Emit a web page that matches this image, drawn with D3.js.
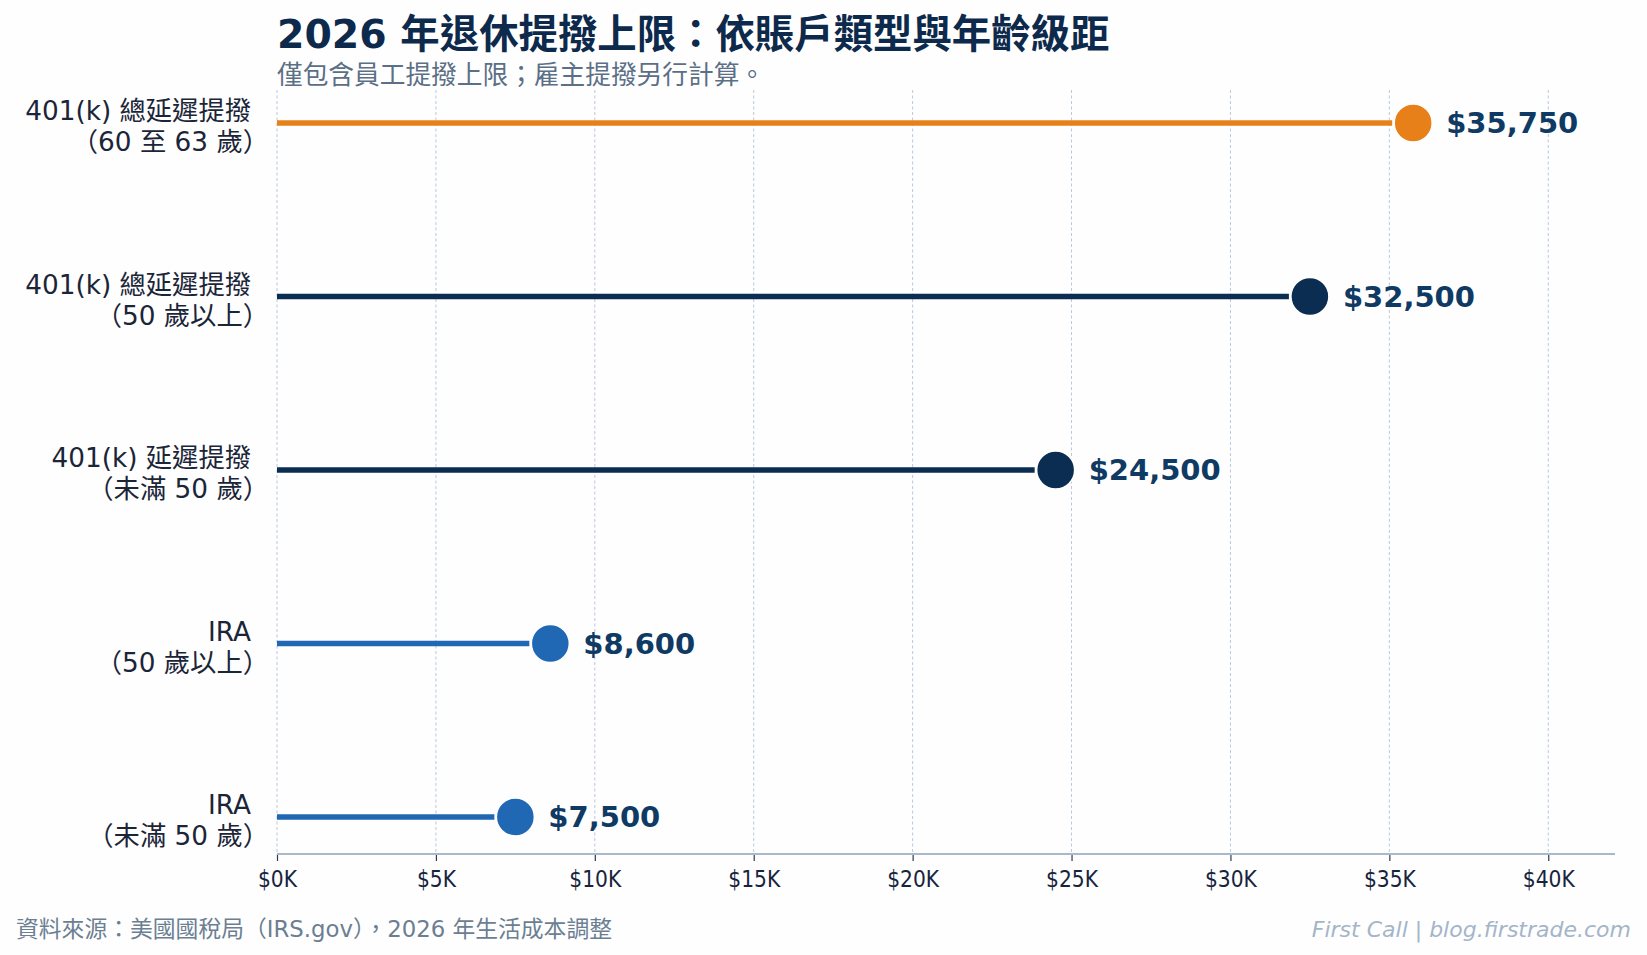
<!DOCTYPE html>
<html><head><meta charset="utf-8">
<script src="https://cdn.jsdelivr.net/npm/d3@7"></script>
<style>
html,body{margin:0;padding:0;background:#fefefe;}
svg{display:block;font-family:"DejaVu Sans","Noto Sans CJK TC",sans-serif;}
</style></head>
<body>
<svg id="c" width="1647" height="955"></svg>
<script>
const categoriesLine1 = ["401(k) 總延遲提撥","401(k) 總延遲提撥","401(k) 延遲提撥","IRA","IRA"];
const categoriesLine2 = ["（60 至 63 歲）","（50 歲以上）","（未滿 50 歲）","（50 歲以上）","（未滿 50 歲）"];
const values = [35750, 32500, 24500, 8600, 7500];
const valueLabels = ["$35,750","$32,500","$24,500","$8,600","$7,500"];
const seriesColors = ["#e8801a","#0b2d52","#0b2d52","#2068b4","#2068b4"];
const tickValues = [0,5000,10000,15000,20000,25000,30000,35000,40000];
const tickLabels = ["$0K","$5K","$10K","$15K","$20K","$25K","$30K","$35K","$40K"];

const svg = d3.select("#c");
const cjk = "\"DejaVu Sans\",\"Noto Sans CJK TC\",sans-serif";
const cond = "\"DejaVu Sans Condensed\",\"DejaVu Sans\",sans-serif";
const ids = d3.range(values.length);

const x = d3.scaleLinear().domain([0, 42100]).range([277, 1615]);
const y = d3.scalePoint().domain(ids).range([123, 817]);
const plotTop = 90, axisY = 854;

// gridlines
svg.append("g").selectAll("line").data(tickValues).join("line")
  .attr("x1", d => x(d)).attr("x2", d => x(d))
  .attr("y1", plotTop).attr("y2", axisY)
  .attr("stroke", "#b9c8da").attr("stroke-width", 1)
  .attr("stroke-dasharray", "3,2.5");

// x axis
const xAxis = d3.axisBottom(x).tickValues(tickValues)
  .tickFormat((d, i) => tickLabels[i]).tickSize(7).tickPadding(10);
const gx = svg.append("g").attr("transform", `translate(0,${axisY})`).call(xAxis);
gx.select(".domain").remove();
gx.selectAll(".tick line").attr("stroke", "#2a3a55").attr("stroke-width", 1.2);
gx.selectAll(".tick text").attr("fill", "#17243d").attr("font-size", 22.5)
  .attr("font-family", cond).attr("font-stretch", "condensed");
svg.append("line").attr("x1", x(0)).attr("x2", x.range()[1])
  .attr("y1", axisY).attr("y2", axisY)
  .attr("stroke", "#a9b8ca").attr("stroke-width", 2);

// stems
svg.append("g").selectAll("line").data(ids).join("line")
  .attr("x1", x(0)).attr("x2", i => x(values[i]) - 21)
  .attr("y1", i => y(i)).attr("y2", i => y(i))
  .attr("stroke", i => seriesColors[i]).attr("stroke-width", 5.5);

// dots
svg.append("g").selectAll("circle").data(ids).join("circle")
  .attr("cx", i => x(values[i])).attr("cy", i => y(i)).attr("r", 19)
  .attr("fill", i => seriesColors[i]).attr("stroke", "#ffffff").attr("stroke-width", 1.5);

// value labels
svg.append("g").selectAll("text").data(ids).join("text")
  .attr("x", i => x(values[i]) + 33).attr("y", i => y(i))
  .attr("dy", "0.36em")
  .attr("font-size", 29).attr("font-weight", "bold").attr("fill", "#0f3a63")
  .attr("font-family", cjk)
  .text(i => valueLabels[i]);

// category labels
const cl = svg.append("g").selectAll("text").data(ids).join("text")
  .attr("text-anchor", "end").attr("font-size", 26.3).attr("fill", "#1b2538")
  .attr("font-family", cjk);
cl.append("tspan").attr("x", 251).attr("y", i => y(i) - 12).attr("dy", "0.36em")
  .text(i => categoriesLine1[i]);
cl.append("tspan").attr("x", 269).attr("y", i => y(i) + 19).attr("dy", "0.36em")
  .text(i => categoriesLine2[i]);

// title & subtitle
svg.append("text").attr("x", 277).attr("y", 48)
  .attr("font-size", 39.4).attr("font-weight", "bold").attr("fill", "#0d2a4d")
  .attr("font-family", cjk)
  .text("2026 年退休提撥上限：依賬戶類型與年齡級距");
svg.append("text").attr("x", 277).attr("y", 84)
  .attr("font-size", 25.7).attr("fill", "#5b6f86")
  .attr("font-family", cjk)
  .text("僅包含員工提撥上限；雇主提撥另行計算。");

// footer
svg.append("text").attr("x", 16).attr("y", 937)
  .attr("font-size", 22.8).attr("fill", "#6c7e92")
  .attr("font-family", cjk)
  .text("資料來源：美國國稅局（IRS.gov），2026 年生活成本調整");
svg.append("text").attr("x", 1631).attr("y", 937).attr("text-anchor", "end")
  .attr("font-size", 22).attr("font-style", "italic").attr("fill", "#a5b5c9")
  .attr("font-family", cjk)
  .text("First Call | blog.firstrade.com");
</script>
</body></html>
